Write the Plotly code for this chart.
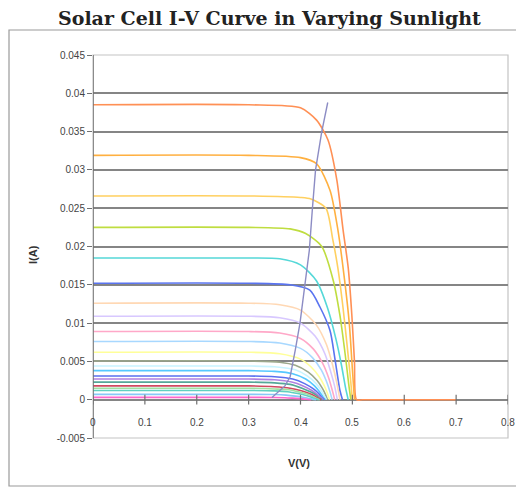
import plotly.graph_objects as go

# ---- data ----
curve_colors = [
    "#FF9055", "#FFB040", "#FFD060", "#BFDD40", "#55D8D8", "#5A74F0",
    "#FFD8B4", "#D8C8FF", "#FFA8C8", "#A8D8FF", "#FFFF99", "#9CA88C",
    "#C8F4FF", "#55C8FF", "#5A70F0", "#B080E0", "#55A898", "#D04860",
    "#A0E0A0", "#60D0C0", "#88C8F8", "#FF66CC",
]

curve_v = [
    [0, 0.30, 0.40, 0.431, 0.453, 0.470, 0.482, 0.492, 0.499, 0.504, 0.508, 0.52, 0.60, 0.70],
    [0, 0.30, 0.40, 0.431, 0.457, 0.472, 0.485, 0.494, 0.500, 0.504],
    [0, 0.30, 0.40, 0.42, 0.449, 0.462, 0.472, 0.482, 0.490, 0.496, 0.500],
    [0, 0.30, 0.38, 0.41, 0.441, 0.463, 0.476, 0.486, 0.493, 0.497],
    [0, 0.30, 0.36, 0.40, 0.431, 0.452, 0.468, 0.479, 0.487, 0.492],
    [0, 0.30, 0.38, 0.418, 0.4375, 0.457, 0.466, 0.476, 0.481],
    [0, 0.30, 0.36, 0.40, 0.43, 0.45, 0.462, 0.47, 0.476],
    [0, 0.30, 0.36, 0.40, 0.428, 0.447, 0.458, 0.466, 0.471],
    [0, 0.30, 0.36, 0.40, 0.425, 0.443, 0.454, 0.461, 0.466],
    [0, 0.30, 0.36, 0.40, 0.423, 0.44, 0.45, 0.457, 0.461],
    [0, 0.30, 0.36, 0.40, 0.42, 0.436, 0.446, 0.452, 0.456],
    [0, 0.30, 0.36, 0.39, 0.415, 0.432, 0.442, 0.448, 0.452],
    [0, 0.30, 0.35, 0.39, 0.413, 0.43, 0.44, 0.446, 0.45],
    [0, 0.30, 0.35, 0.385, 0.41, 0.427, 0.437, 0.443, 0.448],
    [0, 0.30, 0.35, 0.385, 0.408, 0.425, 0.435, 0.441, 0.446],
    [0, 0.30, 0.35, 0.383, 0.405, 0.422, 0.432, 0.439, 0.444],
    [0, 0.30, 0.35, 0.38, 0.403, 0.42, 0.43, 0.437, 0.442],
    [0, 0.30, 0.35, 0.38, 0.40, 0.417, 0.427, 0.434, 0.44],
    [0, 0.30, 0.35, 0.378, 0.398, 0.414, 0.424, 0.431, 0.437],
    [0, 0.30, 0.35, 0.375, 0.395, 0.411, 0.421, 0.428, 0.435],
    [0, 0.30, 0.35, 0.372, 0.39, 0.405, 0.415, 0.423, 0.43],
    [0, 0.30, 0.35, 0.37, 0.385, 0.398, 0.408, 0.415, 0.42],
]

curve_i = [
    [0.0385, 0.0385, 0.0381, 0.0365, 0.0339, 0.0287, 0.0222, 0.0172, 0.011, 0.005, 0, 0, 0, 0],
    [0.0319, 0.0319, 0.0316, 0.0308, 0.0273, 0.0222, 0.0156, 0.010, 0.004, 0],
    [0.0266, 0.0266, 0.0264, 0.0262, 0.025, 0.021, 0.0172, 0.012, 0.007, 0.003, 0],
    [0.0225, 0.0225, 0.0223, 0.0217, 0.020, 0.0156, 0.011, 0.006, 0.002, 0],
    [0.0185, 0.0185, 0.0184, 0.0176, 0.0155, 0.0120, 0.0080, 0.0045, 0.0015, 0],
    [0.0152, 0.0152, 0.0150, 0.0143, 0.0121, 0.0090, 0.0055, 0.0012, 0],
    [0.0126, 0.0126, 0.0124, 0.0117, 0.0098, 0.0072, 0.0045, 0.0022, 0],
    [0.0109, 0.0109, 0.0107, 0.0100, 0.0083, 0.0060, 0.0037, 0.0017, 0],
    [0.0089, 0.0089, 0.0087, 0.0080, 0.0066, 0.0047, 0.0029, 0.0013, 0],
    [0.0076, 0.0076, 0.0074, 0.0067, 0.0055, 0.0039, 0.0024, 0.0010, 0],
    [0.0062, 0.0062, 0.0060, 0.0053, 0.0043, 0.0030, 0.0018, 0.0008, 0],
    [0.00505, 0.00505, 0.0049, 0.0045, 0.0036, 0.0025, 0.0015, 0.0007, 0],
    [0.0044, 0.0044, 0.0043, 0.0039, 0.0031, 0.0021, 0.0012, 0.0005, 0],
    [0.0038, 0.0038, 0.0037, 0.0034, 0.0027, 0.0018, 0.0010, 0.0004, 0],
    [0.0031, 0.0031, 0.0030, 0.0027, 0.0021, 0.0014, 0.0008, 0.0003, 0],
    [0.0027, 0.0027, 0.0026, 0.0023, 0.0018, 0.0012, 0.0007, 0.0003, 0],
    [0.0023, 0.0023, 0.0022, 0.0020, 0.0015, 0.0010, 0.0006, 0.0002, 0],
    [0.0018, 0.0018, 0.0017, 0.0015, 0.0012, 0.0008, 0.0005, 0.0002, 0],
    [0.0015, 0.0015, 0.0014, 0.0013, 0.0010, 0.0007, 0.0004, 0.00015, 0],
    [0.0012, 0.0012, 0.00115, 0.00104, 0.0008, 0.00055, 0.00032, 0.00012, 0],
    [0.0007, 0.0007, 0.00067, 0.0006, 0.00047, 0.00032, 0.00019, 0.00007, 0],
    [0.0003, 0.0003, 0.00029, 0.00026, 0.0002, 0.00014, 0.00008, 0.00003, 0],
]

mpp_v = [0.345, 0.354, 0.37, 0.38, 0.385, 0.39, 0.399, 0.409, 0.417, 0.423, 0.429, 0.441, 0.4525]
mpp_i = [0.0003, 0.0008, 0.0018, 0.003, 0.005, 0.0065, 0.010, 0.015, 0.0195, 0.025, 0.030, 0.035, 0.0388]

y_tick_vals = [0.045, 0.04, 0.035, 0.03, 0.025, 0.02, 0.015, 0.01, 0.005, 0, -0.005]
y_tick_text = ["0.045", "0.04", "0.035", "0.03", "0.025", "0.02", "0.015", "0.01", "0.005", "0", "-0.005"]
x_tick_vals = [0, 0.1, 0.2, 0.3, 0.4, 0.5, 0.6, 0.7, 0.8]
x_tick_text = ["0", "0.1", "0.2", "0.3", "0.4", "0.5", "0.6", "0.7", "0.8"]

title_text = "Solar Cell I-V Curve in Varying Sunlight"
x_title = "V(V)"
y_title = "I(A)"

# ---- figure (page body has an 8px margin, so shift everything by 8px) ----
OFF = 8
W, H = 524 - OFF, 490 - OFF
px_left, px_right, px_top, px_bottom = 93 - OFF, 508 - OFF, 55 - OFF, 438 - OFF
L, R, T, B = px_left, W - px_right, px_top, H - px_bottom
pw, ph = px_right - px_left, px_bottom - px_top


def paper_x(px):
    return (px - OFF - px_left) / pw


def paper_y(py):
    return (px_bottom - (py - OFF)) / ph


fig = go.Figure()

for v, i, c in zip(curve_v, curve_i, curve_colors):
    fig.add_trace(go.Scatter(x=v, y=i, mode="lines",
                             line=dict(color=c, width=1.6, shape="spline", smoothing=0.7),
                             hoverinfo="skip", showlegend=False))

fig.add_trace(go.Scatter(x=mpp_v, y=mpp_i, mode="lines",
                         line=dict(color="#8C8CC4", width=1.4),
                         hoverinfo="skip", showlegend=False))

# x-axis tick marks along the zero line
fig.add_trace(go.Scatter(x=x_tick_vals, y=[0] * len(x_tick_vals), mode="markers",
                         marker=dict(symbol="line-ns-open", size=7, color="#707070",
                                     line=dict(color="#707070", width=1.2)),
                         hoverinfo="skip", showlegend=False))

font_main = "Liberation Sans, Arial, sans-serif"

fig.update_layout(
    width=W, height=H,
    margin=dict(l=L, r=R, t=T, b=B, pad=0, autoexpand=False),
    paper_bgcolor="white", plot_bgcolor="white",
    showlegend=False,
    xaxis=dict(range=[0, 0.8], showgrid=False, zeroline=False,
               showticklabels=False, ticks="", showline=False, fixedrange=True),
    yaxis=dict(range=[-0.005, 0.045], tickvals=y_tick_vals, ticktext=y_tick_text,
               showgrid=True, gridcolor="#858585", gridwidth=1.7,
               zeroline=True, zerolinecolor="#858585", zerolinewidth=1.7,
               ticks="outside", ticklen=5, tickcolor="#707070", tickwidth=1.2,
               tickfont=dict(family=font_main, size=10, color="#444444"),
               showline=False, fixedrange=True),
)

# x tick labels near the zero line (Excel style)
for xv, xt in zip(x_tick_vals, x_tick_text):
    fig.add_annotation(x=xv, y=-0.003, xref="x", yref="y", text=xt, showarrow=False,
                       font=dict(family=font_main, size=10, color="#444444"),
                       xanchor="center", yanchor="middle")

# outer chart border
fig.add_shape(type="rect", xref="paper", yref="paper",
              x0=paper_x(9), x1=paper_x(522), y0=paper_y(486), y1=paper_y(30),
              line=dict(color="#9A9A9A", width=1.2), layer="below")
# plot area border
fig.add_shape(type="rect", xref="paper", yref="paper", x0=0, x1=1, y0=0, y1=1,
              line=dict(color="#C4C4C4", width=1.2), layer="below")
# y-axis line at V = 0
fig.add_shape(type="line", xref="x", yref="paper", x0=0, x1=0, y0=0, y1=1,
              line=dict(color="#707070", width=1.5))

# title and axis titles
fig.add_annotation(x=paper_x(269), y=paper_y(18), xref="paper", yref="paper",
                   text="<b>" + title_text + "</b>", showarrow=False,
                   font=dict(family="DejaVu Serif, serif", size=19, color="#222222"),
                   xanchor="center", yanchor="middle")
fig.add_annotation(x=paper_x(299), y=paper_y(463), xref="paper", yref="paper",
                   text="<b>" + x_title + "</b>", showarrow=False,
                   font=dict(family=font_main, size=11, color="#333333"),
                   xanchor="center", yanchor="middle")
fig.add_annotation(x=paper_x(33), y=paper_y(255), xref="paper", yref="paper",
                   text="<b>" + y_title + "</b>", showarrow=False, textangle=-90,
                   font=dict(family=font_main, size=11, color="#333333"),
                   xanchor="center", yanchor="middle")

fig.write_html("out.html")
